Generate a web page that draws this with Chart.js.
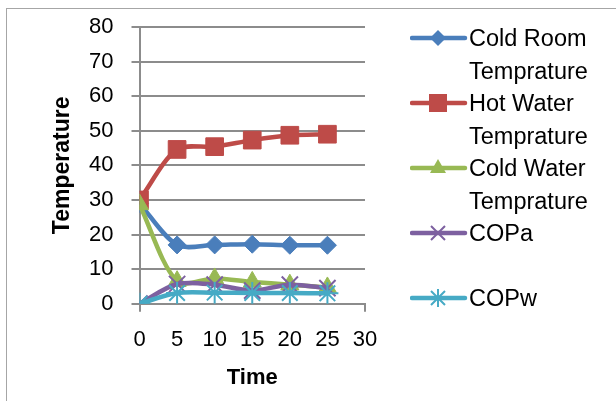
<!DOCTYPE html>
<html><head><meta charset="utf-8">
<script src="https://cdn.jsdelivr.net/npm/chart.js@4"></script>
<style>
html,body{margin:0;padding:0;background:#fff;}
#wrap{position:relative;width:616px;height:401px;overflow:hidden;}
#frame{position:absolute;left:6px;top:8px;width:640px;height:420px;border:1.5px solid #a6a6a6;box-sizing:border-box;}
canvas{position:absolute;left:0;top:0;}
#legend{position:absolute;left:410px;top:22px;font-family:"Liberation Sans",Arial,sans-serif;font-size:23.5px;color:#000;}
.item{position:relative;height:65px;}
.item svg{position:absolute;left:0;top:4px;}
.item .txt{position:absolute;left:59px;top:0;line-height:32.5px;white-space:nowrap;}
</style></head>
<body><div id="wrap"><div id="frame"></div><canvas id="c" width="616" height="401"></canvas><div id="legend"></div></div>
<script>
const times = [0, 5, 10, 15, 20, 25];
const coldRoom = [29, 17, 17, 17.2, 16.9, 16.9];
const hotWater = [30, 44.6, 45.4, 47.3, 48.7, 49];
const coldWater = [28.7, 6.5, 7.3, 6.3, 5.5, 4.7];
const copA = [0, 5.7, 5.5, 3.8, 5.5, 4.5];
const copW = [0, 3.1, 3.2, 3.1, 3.1, 3.0];
const yTicks = [0, 10, 20, 30, 40, 50, 60, 70, 80];
const xTicks = [0, 5, 10, 15, 20, 25, 30];
const seriesNames = [["Cold Room","Temprature"],["Hot Water","Temprature"],["Cold Water","Temprature"],["COPa"],["COPw"]];

const colors = ['#4a7ebb','#be4b48','#98b954','#7d60a0','#46aac5'];
const pstyles = ['rectRot','rect','triangle','crossRot','star'];
const pradius = [9, 12.5, 10.5, 11.5, 11];
const allData = [coldRoom, hotWater, coldWater, copA, copW];

const datasets = allData.map((arr, i) => ({
  label: seriesNames[i].join(' '),
  data: arr.map((v, j) => ({x: times[j], y: v})),
  borderColor: colors[i],
  backgroundColor: colors[i],
  borderWidth: 4.5,
  tension: 0.3,
  showLine: true,
  pointStyle: pstyles[i],
  pointRadius: pradius[i],
  pointBorderWidth: (i >= 3) ? 2 : 1,
  pointBorderColor: colors[i],
  pointBackgroundColor: colors[i],
  order: 5 - i
}));

const FONT = "'Liberation Sans', Arial, sans-serif";
const GRID = '#8c8c8c';

new Chart(document.getElementById('c'), {
  type: 'scatter',
  data: {datasets},
  options: {
    responsive: false,
    animation: false,
    layout: {padding: {left: 0, top: 27, right: 251, bottom: 0}},
    plugins: {legend: {display: false}, tooltip: {enabled: false}},
    scales: {
      x: {
        type: 'linear', min: 0, max: 30,
        afterBuildTicks: s => { s.ticks = xTicks.map(v => ({value: v})); },
        afterFit: s => { s.height = 97.3; s.paddingLeft = 0; s.paddingRight = 0; },
        ticks: {color: '#000', font: {family: FONT, size: 22}, padding: 15, maxRotation: 0},
        grid: {display: true, drawOnChartArea: false, drawTicks: true, tickLength: 8, lineWidth: 2,
               color: c => (c.tick && (c.tick.value === 0 || c.tick.value === 30)) ? GRID : 'rgba(0,0,0,0)'},
        border: {display: true, color: GRID, width: 2},
        title: {display: true, text: 'Time', color: '#000', font: {family: FONT, size: 22, weight: 'bold'}, padding: {top: 0, bottom: 10}}
      },
      y: {
        type: 'linear', min: 0, max: 80,
        afterBuildTicks: s => { s.ticks = yTicks.map(v => ({value: v})); },
        afterFit: s => { s.width = 139.5; s.paddingTop = 0; s.paddingBottom = 0; },
        ticks: {color: '#000', font: {family: FONT, size: 22}, padding: 18},
        grid: {display: true, drawOnChartArea: true, drawTicks: true, tickLength: 8, lineWidth: 2, color: GRID},
        border: {display: true, color: GRID, width: 2},
        title: {display: true, text: 'Temperature', color: '#000', font: {family: FONT, size: 23, weight: 'bold'}, padding: {top: 49, bottom: 0}}
      }
    }
  }
});

// HTML legend
const legend = document.getElementById('legend');
function markerSvg(i) {
  const c = colors[i];
  let m = '';
  const cx = 28, cy = 12;
  if (i === 0) m = `<polygon points="${cx-8},${cy} ${cx},${cy-8} ${cx+8},${cy} ${cx},${cy+8}" fill="${c}"/>`;
  if (i === 1) m = `<rect x="${cx-9}" y="${cy-9}" width="18" height="18" fill="${c}"/>`;
  if (i === 2) m = `<polygon points="${cx},${cy-9} ${cx+8},${cy+5} ${cx-8},${cy+5}" fill="${c}"/>`;
  if (i === 3) m = `<path d="M${cx-7},${cy-7}L${cx+7},${cy+7}M${cx-7},${cy+7}L${cx+7},${cy-7}" stroke="${c}" stroke-width="2"/>`;
  if (i === 4) m = `<path d="M${cx-7},${cy-7}L${cx+7},${cy+7}M${cx-7},${cy+7}L${cx+7},${cy-7}M${cx},${cy-9}L${cx},${cy+9}" stroke="${c}" stroke-width="2"/>`;
  return `<svg width="58" height="26"><line x1="2" y1="${cy}" x2="55" y2="${cy}" stroke="${c}" stroke-width="4.5" stroke-linecap="round"/>${m}</svg>`;
}
seriesNames.forEach((lines, i) => {
  const d = document.createElement('div');
  d.className = 'item';
  d.innerHTML = markerSvg(i) + `<div class="txt">${lines.join('<br>')}</div>`;
  legend.appendChild(d);
});
</script>
</body></html>
